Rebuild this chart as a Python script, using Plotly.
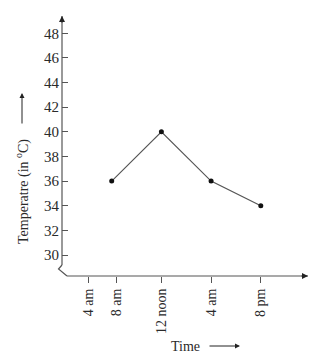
import plotly.graph_objects as go

# Data
tick_labels = ["4 am", "8 am", "12 noon", "4 am", "8 pm"]
tick_slots = [0.54, 1.1, 2, 3, 4]
point_slots = [1, 2, 3, 4]
temps = [36, 40, 36, 34]
y_ticks = [30, 32, 34, 36, 38, 40, 42, 44, 46, 48]

FONT = "Liberation Serif, Times New Roman, serif"
TXT = "#2a2a2a"
AX = "#555555"

W, H = 322, 357
L, R, T, B = 62, 14, 16, 81
pw, ph = W - L - R, H - T - B

def px(x):
    return (x - L) / pw

def py(y):
    return (H - B - y) / ph

fig = go.Figure()
fig.add_trace(go.Scatter(
    x=point_slots, y=temps, mode="lines+markers",
    line=dict(color="#555555", width=1.2),
    marker=dict(color="#111111", size=5),
    hoverinfo="skip", showlegend=False,
))

shapes = [
    dict(type="line", xref="paper", yref="paper", x0=0, x1=0, y0=1, y1=py(265),
         line=dict(color=AX, width=1.2)),
    dict(type="path", xref="paper", yref="paper",
         path=f"M {px(62)},{py(265)} L {px(58.5)},{py(269)} L {px(67)},{py(276)}",
         line=dict(color=AX, width=1.2)),
    dict(type="line", xref="paper", yref="paper", x0=px(67), x1=1, y0=0, y1=0,
         line=dict(color=AX, width=1.2)),
]

annotations = [
    dict(xref="paper", yref="paper", x=0, y=1, ax=0, ay=8, text="", showarrow=True,
         arrowhead=2, arrowsize=1, arrowwidth=1.2, arrowcolor="#222"),
    dict(xref="paper", yref="paper", x=1, y=0, ax=-8, ay=0, text="", showarrow=True,
         arrowhead=2, arrowsize=1, arrowwidth=1.2, arrowcolor="#222"),
    dict(xref="paper", yref="paper", x=px(185), y=py(346), text="Time", showarrow=False,
         font=dict(family=FONT, size=14, color=TXT), xanchor="center", yanchor="middle"),
    dict(xref="paper", yref="paper", x=px(240), y=py(346), ax=-32, ay=0, text="",
         showarrow=True, arrowhead=2, arrowsize=1, arrowwidth=1, arrowcolor="#222"),
    dict(xref="paper", yref="paper", x=px(22), y=py(192), text="Temperatre (in <sup>o</sup>C)",
         showarrow=False, textangle=-90,
         font=dict(family=FONT, size=14, color=TXT), xanchor="center", yanchor="middle"),
    dict(xref="paper", yref="paper", x=px(22), y=py(93), ax=0, ay=32, text="",
         showarrow=True, arrowhead=2, arrowsize=1, arrowwidth=1, arrowcolor="#222"),
]

fig.update_layout(
    width=W, height=H,
    margin=dict(l=L, r=R, t=T, b=B, pad=0),
    paper_bgcolor="white", plot_bgcolor="white",
    shapes=shapes, annotations=annotations,
    xaxis=dict(range=[0, 4.95], showgrid=False, zeroline=False, showline=False,
               tickmode="array", tickvals=tick_slots, ticktext=tick_labels,
               ticks="outside", ticklen=6, tickcolor=AX, tickwidth=1.2, tickangle=-90,
               tickfont=dict(family=FONT, size=14, color=TXT), fixedrange=True),
    yaxis=dict(range=[28.3, 49.4], showgrid=False, zeroline=False, showline=False,
               tickmode="array", tickvals=y_ticks,
               ticks="inside", ticklen=6, tickcolor=AX, tickwidth=1.2,
               ticklabelstandoff=2,
               tickfont=dict(family=FONT, size=15, color=TXT), fixedrange=True),
)

fig.write_html("out.html", config={"displayModeBar": False})
